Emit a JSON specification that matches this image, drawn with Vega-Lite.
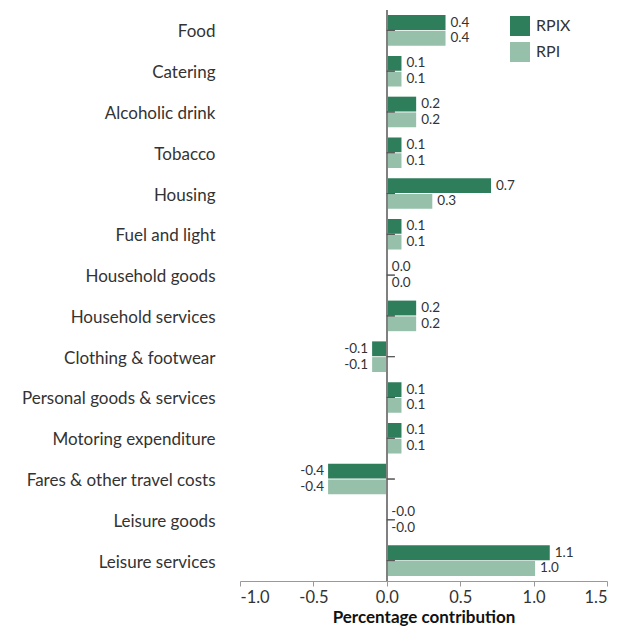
{
  "$schema": "https://vega.github.io/schema/vega-lite/v6.json",
  "width": 367,
  "height": 571,
  "autosize": {"type": "none"},
  "padding": {"left": 240, "top": 10, "right": 21, "bottom": 47},
  "config": {
    "view": {"stroke": null},
    "font": "Lato",
    "locale": {"number": {"decimal": ".", "thousands": ",", "grouping": [3], "currency": ["$", ""], "minus": "-"}}
  },
  "data": {
    "values": [
      {"category": "Food", "series": "RPIX", "value": 0.4, "label": "0.4"},
      {"category": "Food", "series": "RPI", "value": 0.4, "label": "0.4"},
      {"category": "Catering", "series": "RPIX", "value": 0.1, "label": "0.1"},
      {"category": "Catering", "series": "RPI", "value": 0.1, "label": "0.1"},
      {"category": "Alcoholic drink", "series": "RPIX", "value": 0.2, "label": "0.2"},
      {"category": "Alcoholic drink", "series": "RPI", "value": 0.2, "label": "0.2"},
      {"category": "Tobacco", "series": "RPIX", "value": 0.1, "label": "0.1"},
      {"category": "Tobacco", "series": "RPI", "value": 0.1, "label": "0.1"},
      {"category": "Housing", "series": "RPIX", "value": 0.71, "label": "0.7"},
      {"category": "Housing", "series": "RPI", "value": 0.31, "label": "0.3"},
      {"category": "Fuel and light", "series": "RPIX", "value": 0.1, "label": "0.1"},
      {"category": "Fuel and light", "series": "RPI", "value": 0.1, "label": "0.1"},
      {"category": "Household goods", "series": "RPIX", "value": 0.0, "label": "0.0"},
      {"category": "Household goods", "series": "RPI", "value": 0.0, "label": "0.0"},
      {"category": "Household services", "series": "RPIX", "value": 0.2, "label": "0.2"},
      {"category": "Household services", "series": "RPI", "value": 0.2, "label": "0.2"},
      {"category": "Clothing & footwear", "series": "RPIX", "value": -0.1, "label": "-0.1"},
      {"category": "Clothing & footwear", "series": "RPI", "value": -0.1, "label": "-0.1"},
      {"category": "Personal goods & services", "series": "RPIX", "value": 0.1, "label": "0.1"},
      {"category": "Personal goods & services", "series": "RPI", "value": 0.1, "label": "0.1"},
      {"category": "Motoring expenditure", "series": "RPIX", "value": 0.1, "label": "0.1"},
      {"category": "Motoring expenditure", "series": "RPI", "value": 0.1, "label": "0.1"},
      {"category": "Fares & other travel costs", "series": "RPIX", "value": -0.4, "label": "-0.4"},
      {"category": "Fares & other travel costs", "series": "RPI", "value": -0.4, "label": "-0.4"},
      {"category": "Leisure goods", "series": "RPIX", "value": -0.004, "label": "-0.0"},
      {"category": "Leisure goods", "series": "RPI", "value": -0.004, "label": "-0.0"},
      {"category": "Leisure services", "series": "RPIX", "value": 1.11, "label": "1.1"},
      {"category": "Leisure services", "series": "RPI", "value": 1.01, "label": "1.0"}
    ]
  },
  "layer": [
    {
      "mark": {"type": "bar"},
      "encoding": {
        "y": {
          "field": "category", "type": "nominal", "sort": null,
          "scale": {"paddingInner": 0.25, "paddingOuter": 0.125},
          "axis": {"title": null, "domain": false, "ticks": false, "labelPadding": 25, "labelFontSize": 17, "labelColor": "#333333", "labelFont": "Lato", "labelLimit": 400, "labelOffset": 2}
        },
        "yOffset": {"field": "series", "type": "nominal", "sort": ["RPIX", "RPI"], "scale": {"paddingInner": 0.06}},
        "x": {
          "field": "value", "type": "quantitative",
          "scale": {"domain": [-1, 1.5], "nice": false, "zero": false},
          "axis": {
            "values": [-1, -0.5, 0, 0.5, 1, 1.5], "format": ".1f", "grid": false,
            "domainColor": "#999999", "tickColor": "#999999", "tickSize": 5,
            "labelFontSize": 16.5, "labelColor": "#333333", "labelPadding": 3,
            "title": "Percentage contribution", "titleFontSize": 17, "titleFontWeight": "bold", "titleColor": "#111111", "titlePadding": 4
          }
        },
        "color": {
          "field": "series", "type": "nominal",
          "scale": {"domain": ["RPIX", "RPI"], "range": ["#2e7d5b", "#96c0aa"]},
          "legend": {
            "title": null, "orient": "none", "legendX": 270, "legendY": 6,
            "symbolType": "square", "symbolSize": 400, "symbolStrokeWidth": 0,
            "labelFontSize": 16, "labelColor": "#333333", "rowPadding": 6, "labelOffset": 6
          }
        }
      }
    },
    {
      "transform": [{"filter": "datum.value > -0.05"}],
      "mark": {"type": "text", "align": "left", "dx": 5, "fontSize": 13.5, "color": "#333333"},
      "encoding": {
        "y": {"field": "category", "type": "nominal", "sort": null},
        "yOffset": {"field": "series", "type": "nominal", "sort": ["RPIX", "RPI"]},
        "x": {"field": "value", "type": "quantitative"},
        "text": {"field": "label", "type": "nominal"}
      }
    },
    {
      "transform": [{"filter": "datum.value <= -0.05"}],
      "mark": {"type": "text", "align": "right", "dx": -4, "fontSize": 13.5, "color": "#333333"},
      "encoding": {
        "y": {"field": "category", "type": "nominal", "sort": null},
        "yOffset": {"field": "series", "type": "nominal", "sort": ["RPIX", "RPI"]},
        "x": {"field": "value", "type": "quantitative"},
        "text": {"field": "label", "type": "nominal"}
      }
    },
    {
      "mark": {"type": "rule", "color": "#808080", "strokeWidth": 1.5},
      "encoding": {"x": {"datum": 0}}
    },
    {
      "mark": {"type": "rule", "color": "#555555", "strokeWidth": 1},
      "encoding": {
        "y": {"field": "category", "type": "nominal", "sort": null},
        "x": {"datum": 0},
        "x2": {"datum": 0.055}
      }
    }
  ]
}
